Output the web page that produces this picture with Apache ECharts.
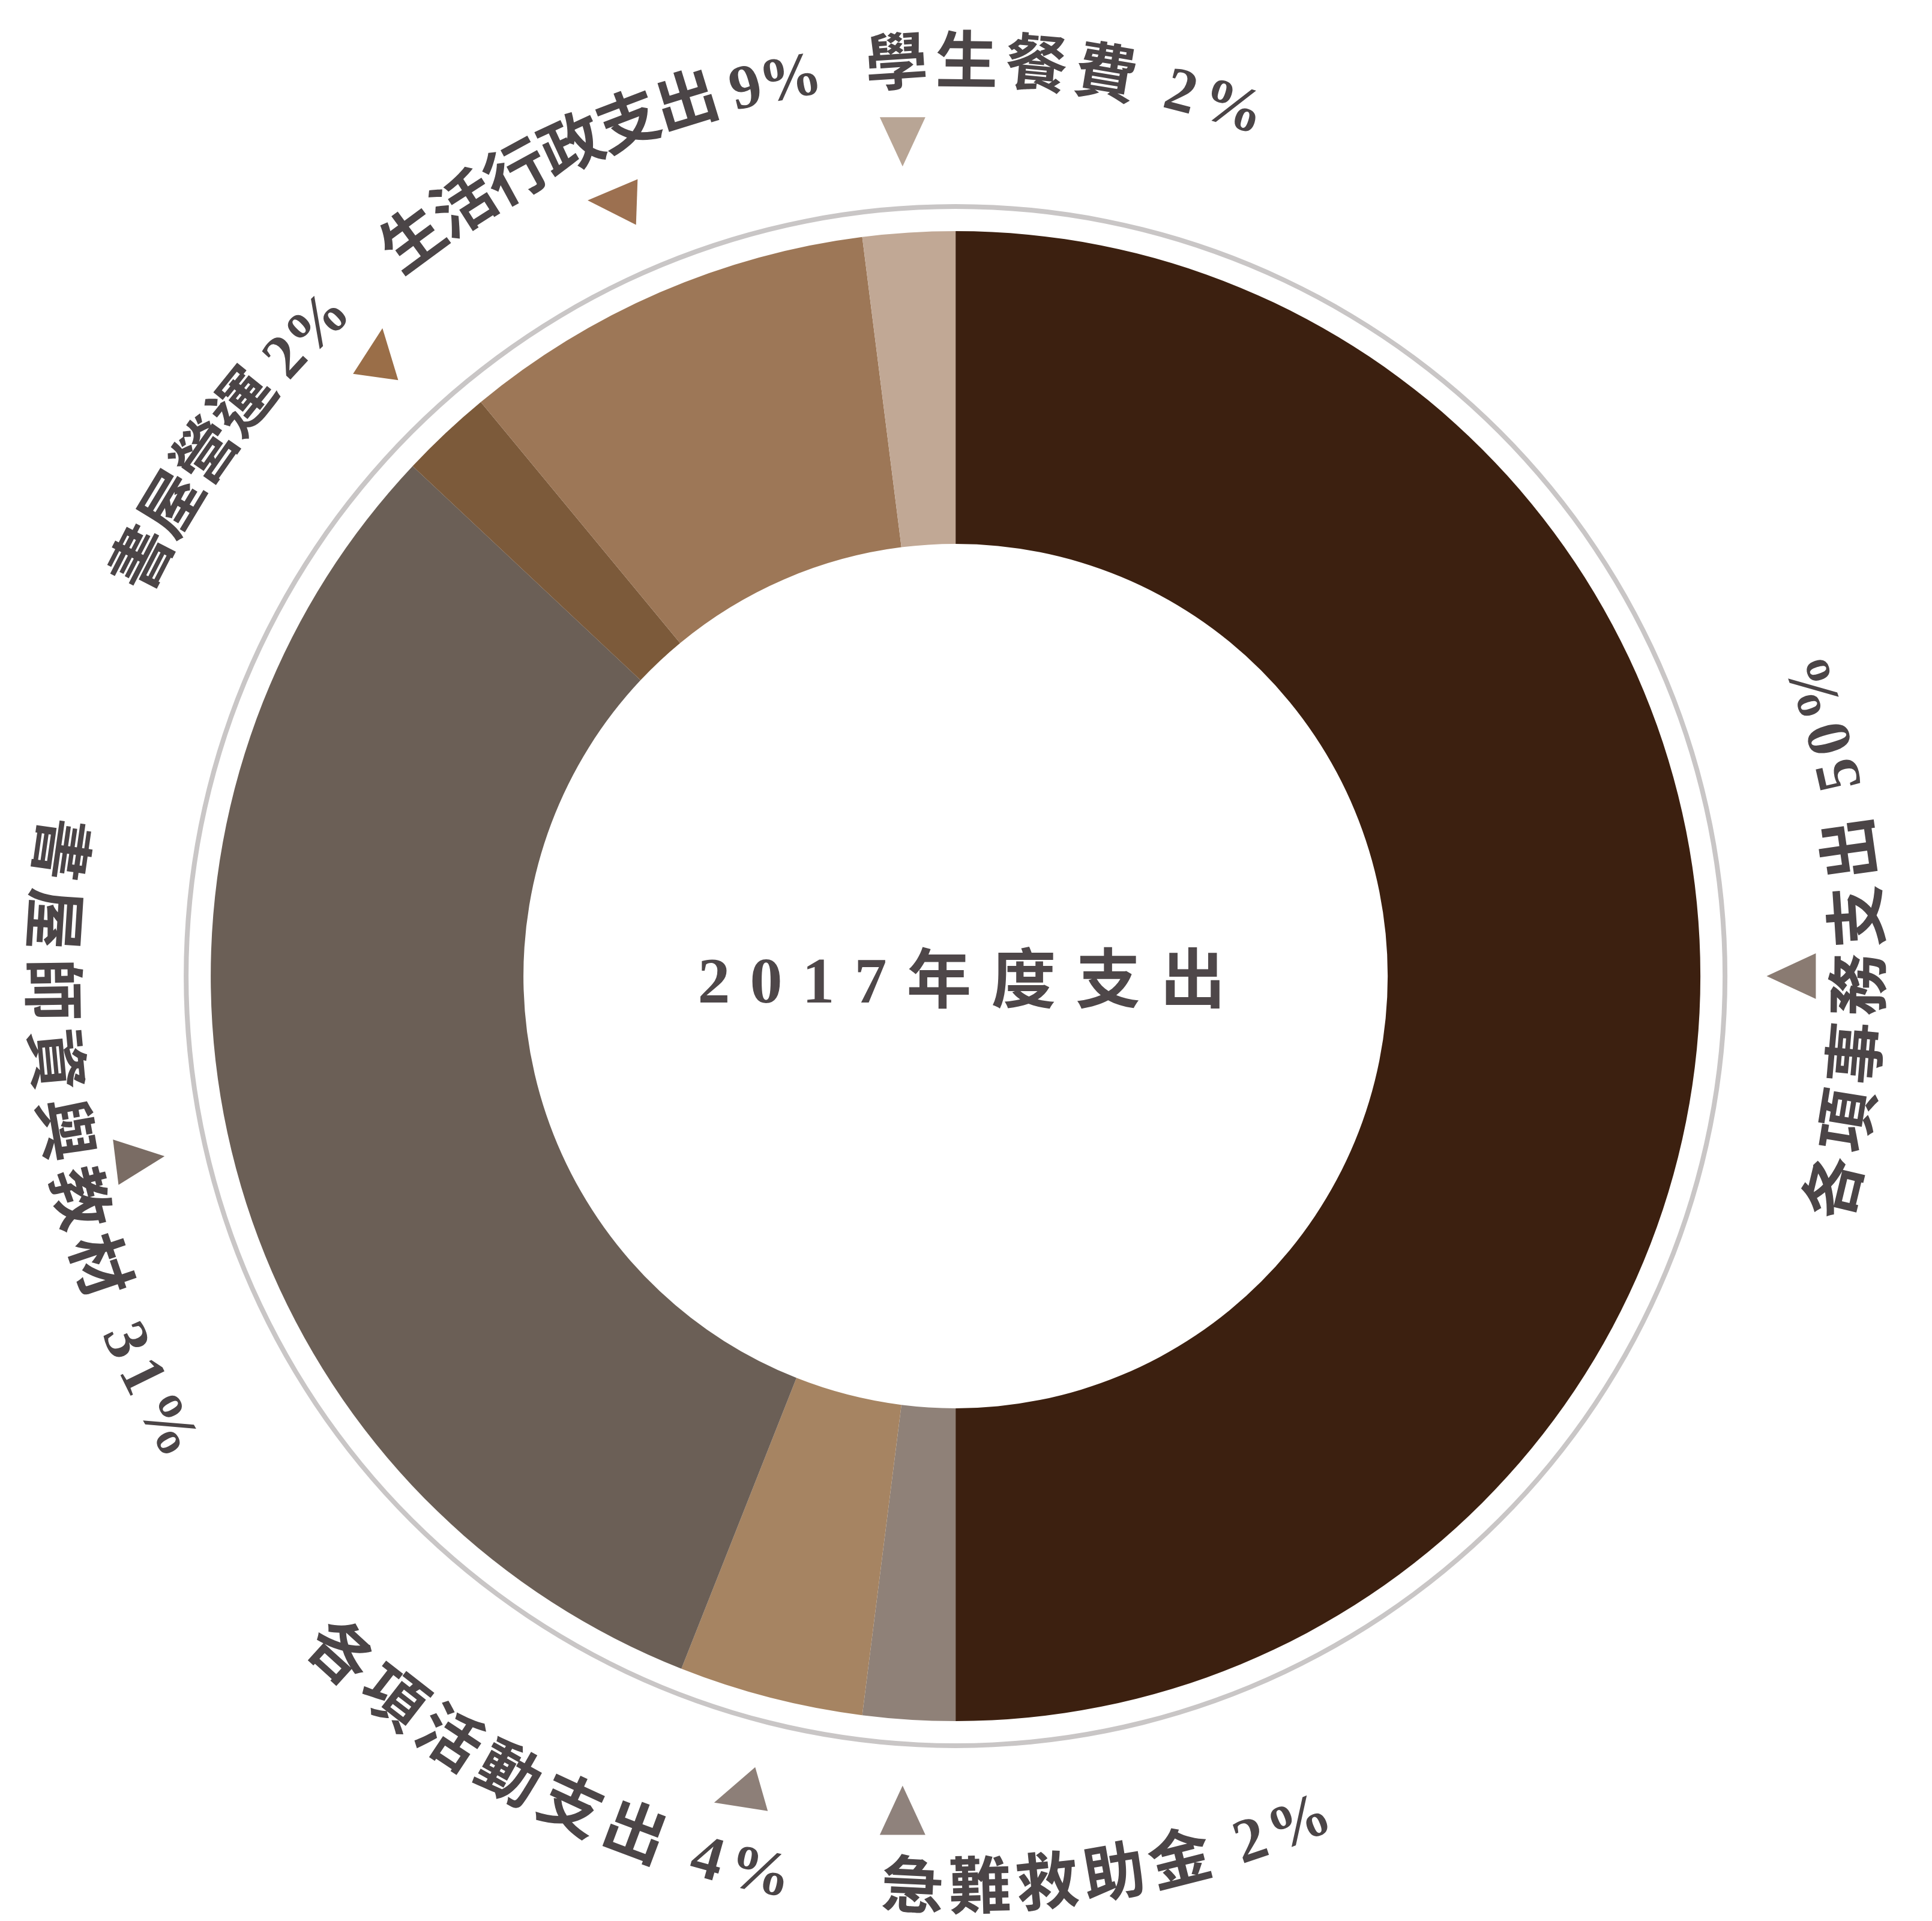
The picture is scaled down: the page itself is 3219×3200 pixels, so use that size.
<!DOCTYPE html>
<html><head><meta charset="utf-8">
<script src="https://cdn.jsdelivr.net/npm/echarts@6/dist/echarts.min.js"></script>
<style>html,body{margin:0;padding:0;background:#fff}#c{width:3219px;height:3200px}</style>
</head><body><div id="c"></div>
<script>
// ---- data ----
const categories = ['各項事務支出', '急難救助金', '各項活動支出', '書屋師資與教材', '書屋營運', '生活行政支出', '學生餐費'];
const values = [50, 2, 4, 31, 2, 9, 2];
const centerTitle = '2017年度支出';

// ---- styles / layout ----
const sliceColors = ['#3c2010', '#8f8178', '#a68462', '#6b5f56', '#7c5a3a', '#9d7757', '#c1a895'];
// dir: 'out' = glyph tops face outward, reading clockwise; 'in' = tops face the centre, reading anticlockwise
// offset: shift of label centre from slice middle (deg); ls: letter spacing (px); dr: radial shift (px)
// tri: apex direction of marker (deg clockwise from up)
const labelLayout = [
  { dir: 'in',  offset: -2.5,  ls: 10.5, dr: 0,  tri: 270, triColor: '#8a7b72' },
  { dir: 'in',  offset: -13.3, ls: 9,    dr: 12, tri: 0,   triColor: '#8f827c' },
  { dir: 'in',  offset: 12.9,  ls: 12.5, dr: 18, tri: 254, triColor: '#8d7f78' },
  { dir: 'in',  offset: 1.8,   ls: 14,   dr: 0,  tri: 83,  triColor: '#7a6c64' },
  { dir: 'out', offset: -10.4, ls: -1,   dr: 0,  tri: 8,   triColor: '#9a6e48' },
  { dir: 'out', offset: 0,     ls: -2,   dr: 0,  tri: 272, triColor: '#9c7050' },
  { dir: 'out', offset: 10.6,  ls: 12,   dr: 0,  tri: 180, triColor: '#b8a595' }
];
const CENTER = ['49.46%', '50.81%'];
const TEXT_R = 1515, TRI_R = 1406, TRI_BASE = 76, TRI_H = 82;
const TEXT_COLOR = '#4b4547';
const FONT_FAMILY = "'Liberation Serif','Noto Sans CJK TC',serif";
const LABEL_SIZE = 104;
const TITLE_SIZE = 108, TITLE_LS = 33, TITLE_WEIGHT = 'bold', TITLE_DX = 10, TITLE_DY = 16;
const labelWeight = c => 'bold';

const mctx = document.createElement('canvas').getContext('2d');
function measure(ch, size, weight) {
  mctx.font = weight + ' ' + size + 'px ' + FONT_FAMILY;
  return mctx.measureText(ch).width;
}

const total = values.reduce((a, b) => a + b, 0);
const mids = [];
(function () {
  let acc = 0;
  values.forEach(v => { mids.push((acc + v / 2) / total * 360); acc += v; });
})();
const norm = a => ((a % 360) + 360) % 360;

function renderLabel(params, api) {
  const i = api.value(2);
  const mid = api.value(1);
  const lay = labelLayout[i];
  const R = api.value(0) + lay.dr;
  const chars = Array.from(categories[i] + ' ' + values[i] + '%');
  const ws = chars.map(c => measure(c, LABEL_SIZE, labelWeight(c)));
  const pos = [0];
  for (let k = 1; k < chars.length; k++) pos.push(pos[k - 1] + ws[k - 1] / 2 + ws[k] / 2 + lay.ls);
  const L = pos[pos.length - 1];
  const sign = lay.dir === 'out' ? 1 : -1;
  const cA = mid + lay.offset;
  const children = [];
  chars.forEach((c, k) => {
    if (c === ' ') return;
    const a = norm(cA + sign * (pos[k] - L / 2) / R * 180 / Math.PI);
    const p = api.coord([R, a]);
    const rot = lay.dir === 'out' ? -a * Math.PI / 180 : -(a + 180) * Math.PI / 180;
    children.push({
      type: 'text', x: p[0], y: p[1], rotation: rot,
      style: { text: c, fontSize: LABEL_SIZE, fontFamily: FONT_FAMILY, fontWeight: labelWeight(c),
               fill: TEXT_COLOR, align: 'center', verticalAlign: 'middle' }
    });
  });
  const tp = api.coord([TRI_R, mid]);
  const phi = lay.tri * Math.PI / 180;
  const u = [Math.sin(phi), -Math.cos(phi)], v = [Math.cos(phi), Math.sin(phi)];
  const apex = [tp[0] + u[0] * TRI_H * 2 / 3, tp[1] + u[1] * TRI_H * 2 / 3];
  const bc = [tp[0] - u[0] * TRI_H / 3, tp[1] - u[1] * TRI_H / 3];
  const b1 = [bc[0] + v[0] * TRI_BASE / 2, bc[1] + v[1] * TRI_BASE / 2];
  const b2 = [bc[0] - v[0] * TRI_BASE / 2, bc[1] - v[1] * TRI_BASE / 2];
  children.push({ type: 'polygon', shape: { points: [apex, b1, b2] }, style: { fill: lay.triColor } });
  return { type: 'group', children: children };
}

function renderTitle(params, api) {
  const p = api.coord([0, 0]);
  const chars = Array.from(centerTitle);
  const ws = chars.map(c => measure(c, TITLE_SIZE, TITLE_WEIGHT));
  const W = ws.reduce((a, b) => a + b, 0) + TITLE_LS * (chars.length - 1);
  let x = p[0] + TITLE_DX - W / 2;
  const children = [];
  chars.forEach((c, k) => {
    children.push({
      type: 'text', x: x + ws[k] / 2, y: p[1] + TITLE_DY,
      style: { text: c, fontSize: TITLE_SIZE, fontFamily: FONT_FAMILY, fontWeight: TITLE_WEIGHT,
               fill: '#4e4749', align: 'center', verticalAlign: 'middle' }
    });
    x += ws[k] + TITLE_LS;
  });
  return { type: 'group', children: children };
}

const chart = echarts.init(document.getElementById('c'), null, { renderer: 'canvas' });
chart.setOption({
  backgroundColor: '#ffffff',
  animation: false,
  polar: { center: CENTER, radius: 1600 },
  angleAxis: { type: 'value', min: 0, max: 360, startAngle: 90, clockwise: true, show: false },
  radiusAxis: { type: 'value', min: 0, max: 1600, show: false },
  series: [
    {
      type: 'pie', center: CENTER, radius: [720, 1241], startAngle: 90, clockwise: true,
      silent: true, label: { show: false }, labelLine: { show: false },
      itemStyle: { borderWidth: 0 },
      data: categories.map((c, i) => ({ name: c, value: values[i], itemStyle: { color: sliceColors[i] } }))
    },
    {
      type: 'pie', center: CENTER, radius: [1278, 1286], silent: true,
      label: { show: false }, labelLine: { show: false },
      data: [{ name: 'ring', value: 1, itemStyle: { color: '#c9c6c6' } }]
    },
    {
      type: 'custom', coordinateSystem: 'polar', silent: true,
      renderItem: renderLabel,
      data: categories.map((c, i) => [TEXT_R, mids[i], i])
    },
    {
      type: 'custom', coordinateSystem: 'polar', silent: true,
      renderItem: renderTitle,
      data: [[0, 0]]
    }
  ]
});
</script>
</body></html>
